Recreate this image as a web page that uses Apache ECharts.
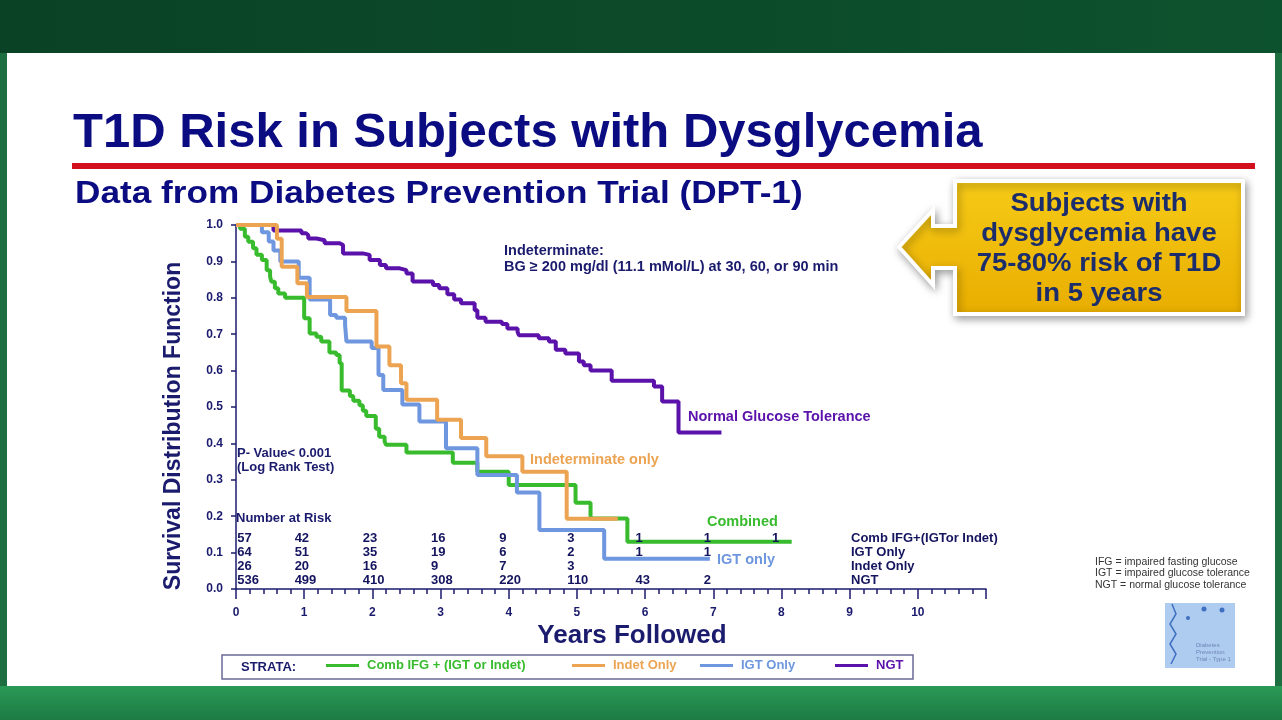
<!DOCTYPE html>
<html>
<head>
<meta charset="utf-8">
<title>T1D Risk in Subjects with Dysglycemia</title>
<script src="https://cdn.jsdelivr.net/npm/echarts@6.0.0/dist/echarts.min.js"></script>
<style>
  html, body { margin: 0; padding: 0; background: #1b6b3e; }
  #main { width: 1282px; height: 720px; }
</style>
</head>
<body>
<div id="main"></div>
<script>
// Kaplan-Meier steps: time (years) and survival after that time
const combTime = [0, 0.06, 0.13, 0.18, 0.25, 0.30, 0.38, 0.45, 0.50, 0.52, 0.57, 0.62, 0.72, 1.0, 1.08, 1.18, 1.25, 1.37, 1.47, 1.52, 1.55, 1.67, 1.72, 1.81, 1.86, 1.91, 2.05, 2.10, 2.18, 2.20, 2.50, 3.18, 3.54, 4.0, 4.98, 5.2, 5.74, 8.15];
const combSurv = [1.0, 0.99, 0.968, 0.954, 0.936, 0.918, 0.904, 0.876, 0.858, 0.844, 0.826, 0.812, 0.80, 0.744, 0.702, 0.693, 0.68, 0.65, 0.643, 0.62, 0.545, 0.53, 0.517, 0.505, 0.49, 0.475, 0.44, 0.418, 0.405, 0.396, 0.375, 0.347, 0.322, 0.286, 0.237, 0.194, 0.13, 0.13];

const indetTime = [0, 0.6, 0.67, 0.9, 1.04, 1.62, 2.06, 2.25, 2.42, 2.5, 2.95, 3.3, 3.67, 4.2, 4.85, 5.6];
const indetSurv = [1.0, 0.962, 0.885, 0.84, 0.802, 0.764, 0.666, 0.615, 0.565, 0.52, 0.465, 0.415, 0.365, 0.322, 0.193, 0.193];

const igtTime = [0, 0.38, 0.48, 0.55, 0.65, 0.92, 1.08, 1.38, 1.47, 1.6, 1.62, 1.99, 2.09, 2.16, 2.44, 2.69, 3.08, 3.54, 4.12, 4.45, 5.4, 6.95];
const igtSurv = [1.0, 0.98, 0.955, 0.93, 0.90, 0.855, 0.795, 0.753, 0.745, 0.725, 0.68, 0.662, 0.588, 0.547, 0.507, 0.46, 0.387, 0.313, 0.265, 0.162, 0.083, 0.083];

const ngtTime = [0, 0.55, 0.96, 1.03, 1.06, 1.18, 1.30, 1.52, 1.57, 1.86, 1.96, 2.11, 2.2, 2.4, 2.5, 2.59, 2.89, 2.98, 3.1, 3.2, 3.3, 3.5, 3.54, 3.66, 3.9, 3.98, 4.13, 4.15, 4.44, 4.59, 4.69, 4.83, 5.03, 5.1, 5.2, 5.51, 6.13, 6.25, 6.49, 7.12];
const ngtSurv = [1.0, 0.985, 0.977, 0.972, 0.963, 0.958, 0.95, 0.945, 0.922, 0.918, 0.904, 0.89, 0.881, 0.876, 0.867, 0.845, 0.835, 0.826, 0.81, 0.795, 0.785, 0.766, 0.745, 0.734, 0.728, 0.716, 0.706, 0.697, 0.689, 0.68, 0.657, 0.647, 0.625, 0.615, 0.60, 0.572, 0.556, 0.515, 0.43, 0.43];

// number at risk, one value per year 0,1,2...
const atRiskComb = [57, 42, 23, 16, 9, 3, 1, 1, 1];
const atRiskIgt = [64, 51, 35, 19, 6, 2, 1, 1];
const atRiskIndet = [26, 20, 16, 9, 7, 3];
const atRiskNgt = [536, 499, 410, 308, 220, 110, 43, 2];
const atRiskNames = ['Comb IFG+(IGTor Indet)', 'IGT Only', 'Indet Only', 'NGT'];

const strataNames = ['Comb IFG + (IGT or Indet)', 'Indet Only', 'IGT Only', 'NGT'];
const yTicks = [0, 0.1, 0.2, 0.3, 0.4, 0.5, 0.6, 0.7, 0.8, 0.9, 1.0];
const xTickLabels = ['0', '1', '2', '3', '4', '5', '6', '7', '8', '9', '10', ''];

// colours / fonts
const navy = '#1b1b6e';
const green = '#38bc2e';
const orange = '#eca453';
const blue = '#6e97df';
const purple = '#5a12aa';
const FF = '"Liberation Sans", Arial, sans-serif';

// layout of the at-risk table (in axis units)
const riskRowY = [0.14, 0.101, 0.062, 0.023];
const riskColX = k => (k === 0 ? 0.02 : k - 0.14);

function steps(times, surv) {
    return times.map((t, i) => [t, surv[i]]);
}

let riskData = [];
[atRiskComb, atRiskIgt, atRiskIndet, atRiskNgt].forEach((row, r) => {
    row.forEach((n, k) => riskData.push([riskColX(k), riskRowY[r], String(n)]));
    riskData.push([9.02, riskRowY[r], atRiskNames[r]]);
});

// small helper for slide text
function txt(text, x, y, size, color, align, extra) {
    let a = align || 'left';
    return Object.assign({
        type: 'text', x: x, y: y, z: 10, silent: true,
        style: {
            text: text, fill: color,
            font: 'bold ' + size + 'px ' + FF,
            align: a, verticalAlign: 'middle',
            textAlign: a, textVerticalAlign: 'middle'
        }
    }, extra || {});
}

const lineSeries = (name, color, data, z) => ({
    name: name, type: 'line', step: 'end', data: data,
    symbol: 'none', showSymbol: false, clip: false, silent: true, z: z,
    color: color,
    itemStyle: { color: color },
    lineStyle: { color: color, width: 4 }
});

const legendLeft = [326, 572, 700, 835];
const legendColor = [green, orange, blue, purple];

let chart = echarts.init(document.getElementById('main'));

chart.setOption({
    animation: false,
    backgroundColor: 'transparent',
    grid: { left: 236, right: 296, top: 225, bottom: 131 },
    xAxis: {
        type: 'value', min: 0, max: 11, interval: 1, offset: 3,
        axisLine: { lineStyle: { color: navy, width: 1.5 } },
        axisTick: { length: 10, lineStyle: { color: navy, width: 1.5 } },
        minorTick: { show: true, splitNumber: 5, length: 5, lineStyle: { color: navy, width: 1.5 } },
        splitLine: { show: false },
        axisLabel: {
            margin: 15, color: navy, fontWeight: 'bold', fontSize: 12, fontFamily: FF,
            formatter: v => xTickLabels[Math.round(v)] || ''
        }
    },
    yAxis: {
        type: 'value', min: 0, max: 1, interval: 0.1, offset: 3,
        axisLine: { show: true, lineStyle: { color: navy, width: 1.5 } },
        axisTick: { show: true, length: 5, lineStyle: { color: navy, width: 1.5 } },
        splitLine: { show: false },
        axisLabel: {
            margin: 10, color: navy, fontWeight: 'bold', fontSize: 12, fontFamily: FF,
            formatter: v => {
                let t = yTicks.find(y => Math.abs(y - v) < 1e-6);
                return t === undefined ? '' : t.toFixed(1);
            }
        }
    },
    legend: strataNames.map((name, i) => ({
        left: legendLeft[i], top: 659, padding: 0, itemGap: 0,
        icon: 'rect', itemWidth: 33, itemHeight: 3,
        selectedMode: false, data: [name],
        textStyle: { color: legendColor[i], fontWeight: 'bold', fontSize: 13, fontFamily: FF, padding: [0, 0, 0, 3] }
    })),
    series: [
        lineSeries(strataNames[3], purple, steps(ngtTime, ngtSurv), 2),
        lineSeries(strataNames[0], green, steps(combTime, combSurv), 3),
        lineSeries(strataNames[2], blue, steps(igtTime, igtSurv), 4),
        lineSeries(strataNames[1], orange, steps(indetTime, indetSurv), 5),
        {
            name: 'Number at Risk', type: 'scatter', data: riskData,
            symbolSize: 0, silent: true, z: 8,
            itemStyle: { opacity: 1 },
            label: {
                show: true, position: 'right', distance: 0, opacity: 1,
                formatter: p => p.data[2],
                color: '#14145f', fontWeight: 'bold', fontSize: 13, fontFamily: FF
            }
        }
    ],
    graphic: [
        // frame and slide
        { type: 'rect', z: -20, silent: true, shape: { x: 0, y: 0, width: 1282, height: 720 }, style: { fill: '#1d6e40' } },
        {
            type: 'rect', z: -19, silent: true, shape: { x: 0, y: 0, width: 1282, height: 53 },
            style: { fill: new echarts.graphic.LinearGradient(0, 0, 1, 0, [{ offset: 0, color: '#0a4225' }, { offset: 1, color: '#0d522e' }]) }
        },
        {
            type: 'rect', z: -19, silent: true, shape: { x: 0, y: 686, width: 1282, height: 34 },
            style: { fill: new echarts.graphic.LinearGradient(0, 0, 0, 1, [{ offset: 0, color: '#2a9a56' }, { offset: 1, color: '#1d7a44' }]) }
        },
        { type: 'rect', z: -18, silent: true, shape: { x: 7, y: 53, width: 1268, height: 633 }, style: { fill: '#ffffff' } },

        // heading
        txt('T1D Risk in Subjects with Dysglycemia', 73, 133, 49, '#0b0b82'),
        { type: 'rect', z: 10, silent: true, shape: { x: 72, y: 163, width: 1183, height: 6 }, style: { fill: '#d3101d' } },
        txt('Data from Diabetes Prevention Trial (DPT-1)', 75, 194, 32, '#0b0b82', 'left', { scaleX: 1.1 }),

        // call-out arrow box
        {
            type: 'polygon', z: 9, silent: true,
            shape: { points: [[899, 247], [933, 210], [933, 226], [955, 226], [955, 181], [1243, 181], [1243, 314], [955, 314], [955, 268], [933, 268], [933, 285]] },
            style: {
                fill: new echarts.graphic.LinearGradient(0, 0, 0, 1, [{ offset: 0, color: '#f7cb18' }, { offset: 1, color: '#e8ad00' }]),
                stroke: '#ffffff', lineWidth: 4,
                shadowBlur: 8, shadowColor: 'rgba(0,0,0,0.35)', shadowOffsetX: 2, shadowOffsetY: 3
            }
        },
        txt('Subjects with', 1099, 204, 25, '#1c2d6c', 'center', { scaleX: 1.1 }),
        txt('dysglycemia have', 1099, 234, 25, '#1c2d6c', 'center', { scaleX: 1.1 }),
        txt('75-80% risk of T1D', 1099, 264, 25, '#1c2d6c', 'center', { scaleX: 1.1 }),
        txt('in 5 years', 1099, 294, 25, '#1c2d6c', 'center', { scaleX: 1.1 }),

        // notes inside the plot
        txt('Indeterminate:', 504, 251, 14.5, navy),
        txt('BG \u2265 200 mg/dl (11.1 mMol/L) at 30, 60, or 90 min', 504, 267, 14.5, navy),
        txt('P- Value< 0.001', 237, 453, 13, navy),
        txt('(Log Rank Test)', 237, 467, 13, navy),
        txt('Number at Risk', 236, 518, 13, navy),

        // curve labels
        txt('Normal Glucose Tolerance', 688, 417, 14.5, purple),
        txt('Indeterminate only', 530, 460, 14.5, orange),
        txt('Combined', 707, 522, 14.5, green),
        txt('IGT only', 717, 560, 14.5, blue),

        // axis titles
        txt('Survival Distribution Function', 174, 426, 23, navy, 'center', { rotation: Math.PI / 2 }),
        txt('Years Followed', 632, 636, 26, navy, 'center'),

        // legend frame
        { type: 'rect', z: 1, silent: true, shape: { x: 222, y: 655, width: 691, height: 24 }, style: { fill: '#ffffff', stroke: '#6a6a96', lineWidth: 1.5 } },
        txt('STRATA:', 241, 667, 13, navy),

        // abbreviations
        {
            type: 'text', x: 1095, y: 556, z: 10, silent: true,
            style: {
                text: 'IFG = impaired fasting glucose\nIGT = impaired glucose tolerance\nNGT = normal glucose tolerance',
                fill: '#333333', font: '10.5px ' + FF, lineHeight: 11.5, align: 'left', verticalAlign: 'top'
            }
        },

        // trial logo (simplified)
        { type: 'rect', z: 10, silent: true, shape: { x: 1165, y: 603, width: 70, height: 65 }, style: { fill: '#aecbf0' } },
        { type: 'circle', z: 11, silent: true, shape: { cx: 1204, cy: 609, r: 2.5 }, style: { fill: '#3f6fbf' } },
        { type: 'circle', z: 11, silent: true, shape: { cx: 1222, cy: 610, r: 2.5 }, style: { fill: '#3f6fbf' } },
        { type: 'circle', z: 11, silent: true, shape: { cx: 1188, cy: 618, r: 2 }, style: { fill: '#3f6fbf' } },
        {
            type: 'polyline', z: 11, silent: true,
            shape: { points: [[1172, 604], [1176, 614], [1170, 624], [1176, 634], [1170, 644], [1176, 654], [1171, 664]] },
            style: { stroke: '#3f6fbf', lineWidth: 1.5, fill: null }
        },
        {
            type: 'text', x: 1196, y: 642, z: 11, silent: true,
            style: { text: 'Diabetes\nPrevention\nTrial - Type 1', fill: '#6f86b8', font: '6px ' + FF, lineHeight: 7, align: 'left', verticalAlign: 'top' }
        }
    ]
});
</script>
</body>
</html>
